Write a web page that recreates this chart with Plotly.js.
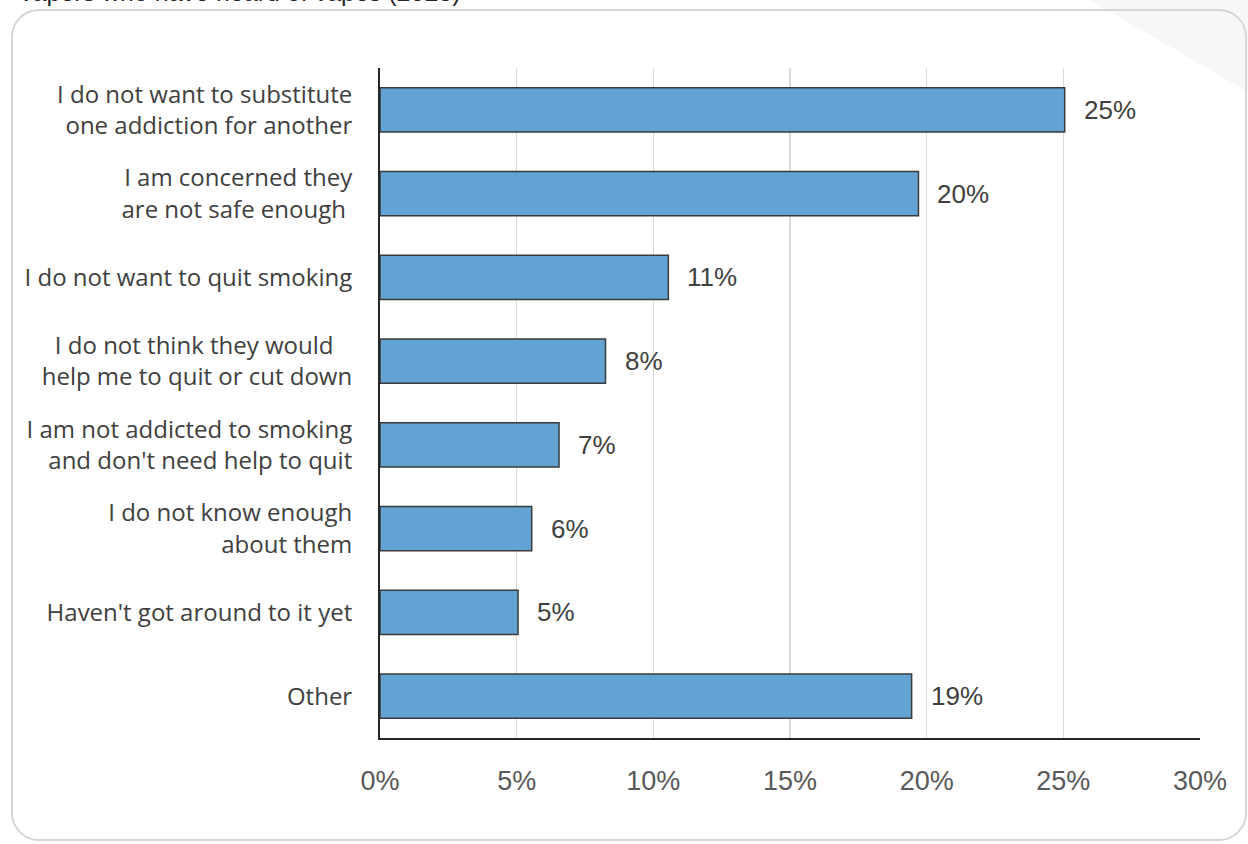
<!DOCTYPE html>
<html>
<head>
<meta charset="utf-8">
<script src="https://cdn.plot.ly/plotly-3.0.1.min.js"></script>
<style>
html,body{margin:0;padding:0;background:#fff;}
#wrap{position:relative;width:1248px;height:844px;overflow:hidden;}
#frame{position:absolute;left:11px;top:9px;width:1236px;height:832px;border:2px solid #d6d6d6;border-radius:28px;box-sizing:border-box;}
#fold{position:absolute;left:0;top:0;}
#chart{position:absolute;left:0;top:0;width:1248px;height:844px;}
</style>
</head>
<body>
<div id="wrap">
<svg id="fold" width="1248" height="844"><polygon points="1090,0 1248,0 1248,92" fill="#f7f7f7"/></svg>
<div id="frame"></div>
<div id="chart"></div>
</div>
<script>
const categories = [
  "I do not want to substitute<br>one addiction for another",
  "I am concerned they<br>are not safe enough ",
  "I do not want to quit smoking",
  "I do not think they would   <br>help me to quit or cut down",
  "I am not addicted to smoking<br>and don't need help to quit",
  "I do not know enough<br>about them",
  "Haven't got around to it yet",
  "Other"
];
const values = [25.05, 19.7, 10.55, 8.25, 6.55, 5.55, 5.05, 19.45];
const valueLabels = ["25%", "20%", "11%", "8%", "7%", "6%", "5%", "19%"];
const tickVals = [0, 5, 10, 15, 20, 25, 30];
const tickText = ["0%", "5%", "10%", "15%", "20%", "25%", "30%"];
const titleText = "vapers who have heard of vapes (2023)";

const trace = {
  type: "bar",
  orientation: "h",
  y: categories,
  x: values,
  marker: {color: "#62a3d4", line: {color: "#3a3a3a", width: 1.5}},
  width: 0.53,
  hoverinfo: "none"
};

const valueAnnotations = values.map((v, i) => ({
  x: v, y: categories[i], xref: "x", yref: "y",
  text: valueLabels[i], showarrow: false,
  xanchor: "left", yanchor: "middle", xshift: 17,
  font: {family: "Liberation Sans, Arial, sans-serif", size: 26, color: "#404040"}
}));

const layout = {
  width: 1248, height: 844,
  margin: {l: 380, r: 48, t: 68, b: 106},
  paper_bgcolor: "rgba(0,0,0,0)",
  plot_bgcolor: "rgba(0,0,0,0)",
  showlegend: false,
  font: {family: "Liberation Sans, Arial, sans-serif", size: 22, color: "#404040"},
  xaxis: {
    range: [0, 30],
    tickvals: tickVals,
    ticktext: tickText,
    showgrid: true,
    gridcolor: "#d9d9d9",
    gridwidth: 1.5,
    zeroline: false,
    showline: true,
    linecolor: "#262626",
    linewidth: 2,
    ticks: "",
    ticklabelstandoff: 18,
    tickfont: {family: "Liberation Sans, Arial, sans-serif", size: 27, color: "#595959"}
  },
  yaxis: {
    autorange: "reversed",
    showgrid: false,
    zeroline: false,
    showline: true,
    linecolor: "#262626",
    linewidth: 2,
    ticks: "",
    ticklabelstandoff: 21,
    tickfont: {family: "Open Sans, Noto Sans, sans-serif", size: 24, color: "#404040"}
  },
  annotations: [{
    text: titleText,
    xref: "paper", yref: "paper",
    x: -362/820, y: 1,
    xanchor: "left", yanchor: "bottom",
    yshift: 60,
    showarrow: false,
    font: {family: "Liberation Sans, Arial, sans-serif", size: 25, color: "#262626"}
  }].concat(valueAnnotations),
  bargap: 0.47
};

Plotly.newPlot("chart", [trace], layout, {displayModeBar: false, staticPlot: true});
</script>
</body>
</html>
